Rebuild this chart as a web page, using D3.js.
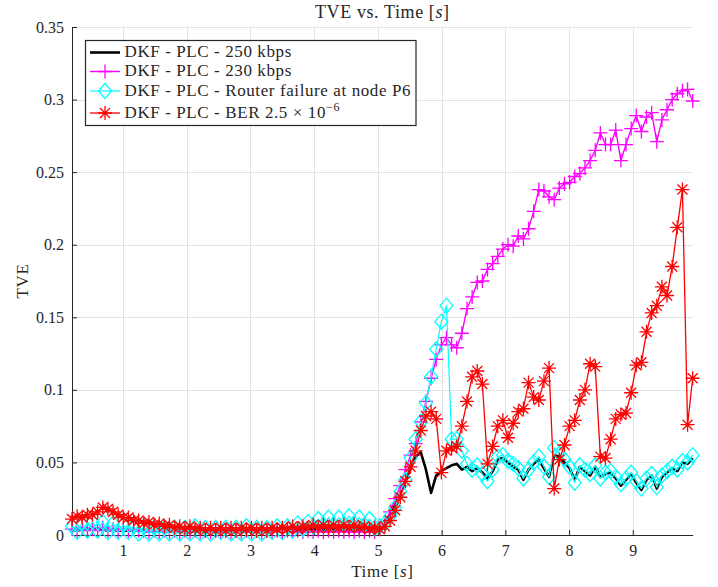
<!DOCTYPE html>
<html>
<head>
<meta charset="utf-8">
<script src="https://cdn.jsdelivr.net/npm/d3@7"></script>
<style>
  body { margin: 0; background: #fff; }
  svg { display: block; }
</style>
</head>
<body>
<svg id="chart" width="718" height="587" font-family="Liberation Serif"></svg>
<script>
// sample times: 122 samples from 0.2 s to 9.94 s
const N = 122;
const T0 = 0.2;
const T1 = 9.94;
const times = d3.range(N).map(i => T0 + i * (T1 - T0) / (N - 1));

const xTicks = [1, 2, 3, 4, 5, 6, 7, 8, 9];
const yTicks = [0, 0.05, 0.1, 0.15, 0.2, 0.25, 0.3, 0.35];

// DKF - PLC - 250 kbps
const tve250 = [
  .004, .003, .004, .004, .005, .004, .004, .003, .004, .003,
  .003, .003, .003, .003, .003, .002, .003, .002, .003, .002,
  .003, .002, .003, .002, .003, .002, .003, .002, .003, .002,
  .003, .002, .003, .002, .003, .002, .003, .002, .003, .002,
  .003, .003, .003, .003, .004, .004, .004, .004, .004, .004,
  .004, .004, .004, .004, .004, .004, .004, .003, .003, .003,
  .004, .008, .014, .021, .029, .037, .046, .054, .057, .045,
  .029, .041, .044, .046, .048, .049, .045, .047, .044, .046,
  .043, .039, .044, .052, .053, .050, .047, .045, .038, .045,
  .049, .052, .046, .040, .055, .054, .050, .046, .038, .047,
  .044, .041, .047, .040, .042, .043, .039, .034, .038, .042,
  .036, .031, .038, .041, .032, .040, .043, .046, .044, .050,
  .049, .053
];

// DKF - PLC - 230 kbps
const tve230 = [
  .004, .003, .005, .003, .004, .003, .005, .003, .004, .003,
  .004, .003, .004, .003, .003, .002, .003, .002, .003, .002,
  .003, .002, .003, .002, .003, .002, .003, .002, .003, .002,
  .003, .002, .003, .002, .003, .002, .003, .002, .003, .002,
  .003, .002, .003, .002, .003, .002, .003, .002, .003, .002,
  .003, .002, .003, .002, .003, .002, .003, .002, .003, .002,
  .004, .009, .016, .025, .034, .045, .055, .063, .078, .092,
  .108, .121, .131, .136, .131, .129, .139, .156, .164, .174,
  .175, .183, .187, .192, .197, .200, .199, .206, .204, .211,
  .223, .238, .237, .233, .231, .239, .242, .243, .247, .249,
  .253, .258, .265, .277, .269, .269, .279, .258, .269, .280,
  .289, .278, .288, .291, .271, .286, .293, .300, .304, .306,
  .307, .299
];

// DKF - PLC - Router failure at node P6
const tveRouter = [
  .006, .002, .008, .003, .009, .003, .009, .002, .008, .002,
  .007, .002, .006, .001, .006, .001, .005, .001, .005, .001,
  .005, .001, .005, .001, .006, .001, .005, .001, .005, .002,
  .005, .001, .005, .001, .006, .001, .005, .001, .005, .002,
  .006, .002, .006, .003, .008, .004, .009, .006, .011, .007,
  .012, .007, .012, .008, .013, .008, .012, .007, .011, .005,
  .006, .008, .013, .019, .030, .038, .053, .066, .078, .091,
  .109, .128, .147, .158, .066, .066, .058, .049, .045, .048,
  .042, .037, .045, .054, .055, .051, .049, .046, .039, .045,
  .050, .054, .047, .040, .060, .056, .052, .047, .036, .048,
  .045, .042, .048, .039, .043, .044, .040, .035, .039, .043,
  .037, .032, .039, .042, .033, .041, .044, .047, .045, .051,
  .050, .055
];

// DKF - PLC - BER 2.5e-6
const tveBer = [
  .011, .013, .012, .014, .014, .016, .019, .018, .016, .014,
  .012, .012, .010, .010, .008, .009, .007, .008, .006, .007,
  .005, .006, .004, .006, .004, .005, .003, .005, .003, .005,
  .003, .005, .003, .005, .004, .005, .003, .005, .003, .005,
  .004, .005, .004, .006, .004, .006, .005, .007, .005, .007,
  .005, .007, .005, .007, .005, .007, .005, .006, .004, .005,
  .004, .006, .010, .017, .026, .037, .047, .058, .072, .082,
  .085, .080, .043, .058, .060, .061, .075, .092, .109, .113,
  .104, .049, .061, .075, .079, .067, .077, .085, .087, .105,
  .095, .093, .106, .115, .032, .052, .062, .075, .079, .093,
  .100, .118, .116, .054, .053, .066, .080, .083, .084, .098,
  .117, .119, .140, .153, .158, .171, .165, .185, .212, .238,
  .076, .108
];

const seriesNames = [
  'DKF - PLC - 250 kbps',
  'DKF - PLC - 230 kbps',
  'DKF - PLC - Router failure at node P6',
  'DKF - PLC - BER 2.5 \u00d7 10'
];

// marker shapes, centred on 0,0
const plusPath = 'M-7,0H7M0,-7V7';
const diamondPath = 'M0,-7.5L6.5,0L0,7.5L-6.5,0Z';
const starPath = 'M-7,0H7M0,-7V7M-5,-5L5,5M-5,5L5,-5';

const series = [
  { values: tve250, color: '#000000', width: 2.6, marker: null },
  { values: tve230, color: '#ff00ff', width: 1.4, marker: plusPath },
  { values: tveRouter, color: '#00ffff', width: 1.2, marker: diamondPath },
  { values: tveBer, color: '#ff0000', width: 1.3, marker: starPath },
];

const FONT = 'Liberation Serif';
const INK = '#262626';

const svg = d3.select('#chart');
const plot = { left: 72, right: 692.7, top: 27, bottom: 535 };

const x = d3.scaleLinear().domain([T0, T1]).range([plot.left, plot.right]);
const y = d3.scaleLinear().domain([0, 0.35]).range([plot.bottom, plot.top]);

// grid
const grid = svg.append('g').attr('stroke', '#e3e3e3').attr('stroke-width', 1);
grid.selectAll('line.gx').data(xTicks).join('line')
  .attr('x1', d => Math.round(x(d)) + 0.5).attr('x2', d => Math.round(x(d)) + 0.5)
  .attr('y1', plot.top).attr('y2', plot.bottom);
grid.selectAll('line.gy').data(yTicks.slice(1)).join('line')
  .attr('y1', d => Math.round(y(d)) + 0.5).attr('y2', d => Math.round(y(d)) + 0.5)
  .attr('x1', plot.left).attr('x2', plot.right);

// axes (only left and bottom, ticks pointing inward)
const fmt = d => (d === 0 ? '0' : String(+d.toFixed(2)));
const xAxis = svg.append('g')
  .attr('transform', `translate(0,${plot.bottom})`)
  .call(d3.axisBottom(x).tickValues(xTicks).tickSizeInner(-5).tickSizeOuter(0).tickPadding(10).tickFormat(d3.format('d')));
const yAxis = svg.append('g')
  .attr('transform', `translate(${plot.left},0)`)
  .call(d3.axisLeft(y).tickValues(yTicks).tickSizeInner(-5).tickSizeOuter(0).tickPadding(8).tickFormat(fmt));
[xAxis, yAxis].forEach(a => {
  a.attr('font-family', FONT).attr('font-size', 16);
  a.select('.domain').attr('stroke', INK).attr('stroke-width', 1);
  a.selectAll('.tick line').attr('stroke', INK);
  a.selectAll('.tick text').attr('fill', INK);
});

// series
const line = d3.line().x((d, i) => x(times[i])).y(d => y(d));
series.forEach(s => {
  svg.append('path')
    .datum(s.values)
    .attr('fill', 'none')
    .attr('stroke', s.color)
    .attr('stroke-width', s.width)
    .attr('stroke-linejoin', 'round')
    .attr('d', line);
  if (s.marker) {
    svg.append('g').selectAll('path').data(s.values).join('path')
      .attr('transform', (d, i) => `translate(${x(times[i])},${y(d)})`)
      .attr('d', s.marker)
      .attr('fill', 'none')
      .attr('stroke', s.color)
      .attr('stroke-width', 1.3);
  }
});

// titles
const midX = (plot.left + plot.right) / 2;
const label = (sel) => sel.attr('font-family', FONT).attr('fill', INK).attr('letter-spacing', 0.6);
svg.append('text').call(label).attr('x', midX).attr('y', 18)
  .attr('text-anchor', 'middle').attr('font-size', 18)
  .html('TVE vs. Time [<tspan font-style="italic">s</tspan>]');
svg.append('text').call(label).attr('x', midX).attr('y', 577)
  .attr('text-anchor', 'middle').attr('font-size', 17)
  .html('Time [<tspan font-style="italic">s</tspan>]');
svg.append('text').call(label).attr('transform', `translate(28,${(plot.top + plot.bottom) / 2}) rotate(-90)`)
  .attr('text-anchor', 'middle').attr('font-size', 17)
  .text('TVE');

// legend
const lg = svg.append('g');
lg.append('rect').attr('x', 85.5).attr('y', 40.5).attr('width', 330.5).attr('height', 85)
  .attr('fill', '#fff').attr('stroke', INK).attr('stroke-width', 1.2);
const rowY = [52.5, 71.5, 91, 113];
series.forEach((s, i) => {
  const cy = rowY[i];
  lg.append('line').attr('x1', 90).attr('x2', 120).attr('y1', cy).attr('y2', cy)
    .attr('stroke', s.color).attr('stroke-width', s.width);
  if (s.marker) {
    lg.append('path').attr('transform', `translate(105,${cy})`).attr('d', s.marker)
      .attr('fill', 'none').attr('stroke', s.color).attr('stroke-width', 1.3);
  }
  const t = lg.append('text').call(label).attr('x', 124.5).attr('y', cy + 4.5)
    .attr('font-size', 17).text(seriesNames[i]);
  if (i === 3) {
    t.append('tspan').attr('font-size', 12).attr('dy', -7).text('\u22126');
  }
});
</script>
</body>
</html>
